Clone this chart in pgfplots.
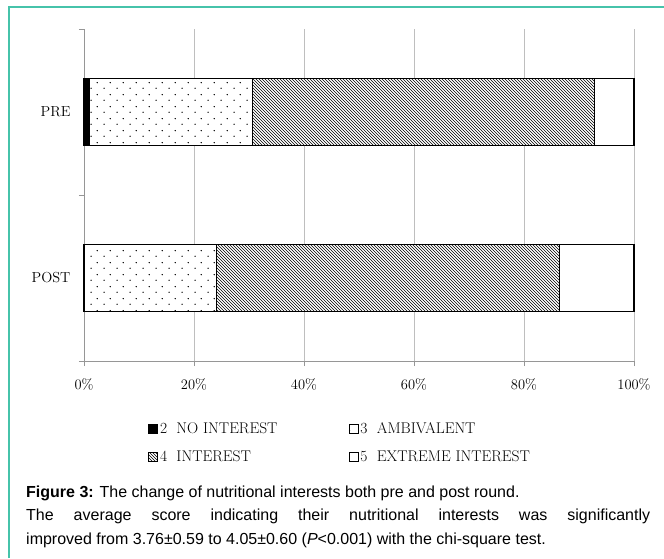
\documentclass[border=0pt]{standalone}
\usepackage{fontspec}
\newfontfamily\arial{Liberation Sans}
\usepackage{pgfplots}
\usepackage{pgfplotstable}
\pgfplotsset{compat=1.18}
\usetikzlibrary{patterns}
\definecolor{frameteal}{RGB}{70,195,170}
\definecolor{gridgray}{RGB}{190,190,190}
\definecolor{axisgray}{RGB}{150,150,150}
\pgfdeclarepatternformonly{sparsedots}{\pgfqpoint{0pt}{0pt}}{\pgfqpoint{12.6pt}{12pt}}{\pgfqpoint{12.6pt}{12pt}}{%
  \pgfpathcircle{\pgfqpoint{3.15pt}{3pt}}{0.75pt}%
  \pgfpathcircle{\pgfqpoint{9.45pt}{9pt}}{0.75pt}%
  \pgfusepath{fill}}

\pgfplotstableread{
cat no amb int ext
0 0 24.1 62.3 13.6
1 0.9 29.7 62.2 7.2
}\data

\begin{document}
\begin{tikzpicture}[x=1pt,y=1pt]
\useasboundingbox (0,0) rectangle (664,558);
\fill[white] (0,0) rectangle (664,558);
\draw[frameteal, line width=1.5pt] (9,0) -- (9,551) -- (664,551);
\begin{axis}[
  at={(84pt,197pt)}, anchor=south west,
  scale only axis, width=550pt, height=332pt,
  xbar stacked, bar width=0.4,
  xmin=0, xmax=100, ymin=-0.5, ymax=1.5,
  axis x line*=bottom, axis y line*=left,
  axis line style={axisgray, line width=0.8pt},
  xtick={0,20,40,60,80,100},
  xticklabels={0\%,20\%,40\%,60\%,80\%,100\%},
  ytick={-0.5,0.5,1.5}, yticklabels={},
  extra y ticks={0,1}, extra y tick labels={POST,PRE},
  extra y tick style={major tick length=0pt, yticklabel style={xshift=-10pt}},
  tick align=outside, major tick length=5pt,
  tick style={axisgray, line width=0.8pt},
  xmajorgrids, grid style={gridgray, line width=0.8pt},
  tick label style={font=\fontsize{14.5}{16}\selectfont},
  xticklabel style={yshift=-9pt},
  clip=false,
  legend columns=2,
  legend cell align=left,
  legend style={draw=none, fill=none, inner sep=0pt,
    at={(axis description cs:0.1164,-0.18)}, anchor=north west,
    font=\fontsize{15.5}{17}\selectfont,
    /tikz/every even column/.append style={column sep=69pt},
    row sep=11pt},
  legend image code/.code={\draw[#1, line width=0.8pt] (0pt,-4.5pt) rectangle (9pt,4.5pt);},
]
\addplot[fill=black, draw=black, line width=1.2pt] table[x=no, y=cat] {\data};
\addplot[fill=white, postaction={pattern=sparsedots, pattern color=black}, draw=black, line width=1.2pt] table[x=amb, y=cat] {\data};
\addplot[fill=white, postaction={pattern=north west lines, pattern color=black}, draw=black, line width=1.2pt] table[x=int, y=cat] {\data};
\addplot[fill=white, draw=black, line width=1.2pt] table[x=ext, y=cat] {\data};
\legend{2~ NO INTEREST, 3~ AMBIVALENT, 4~ INTEREST, 5~ EXTREME INTEREST}
\end{axis}
\node[anchor=base west, inner sep=0pt, align=left, font=\arial\fontsize{16}{23.5}\selectfont] at (26,14)
{{\bfseries Figure 3:} The change of nutritional interests both pre and post round.\\
\makebox[624pt][s]{The average score indicating their nutritional interests was significantly}\\
improved from 3.76±0.59 to 4.05±0.60 (\textit{P}<0.001) with the chi-square test.};
\end{tikzpicture}
\end{document}
